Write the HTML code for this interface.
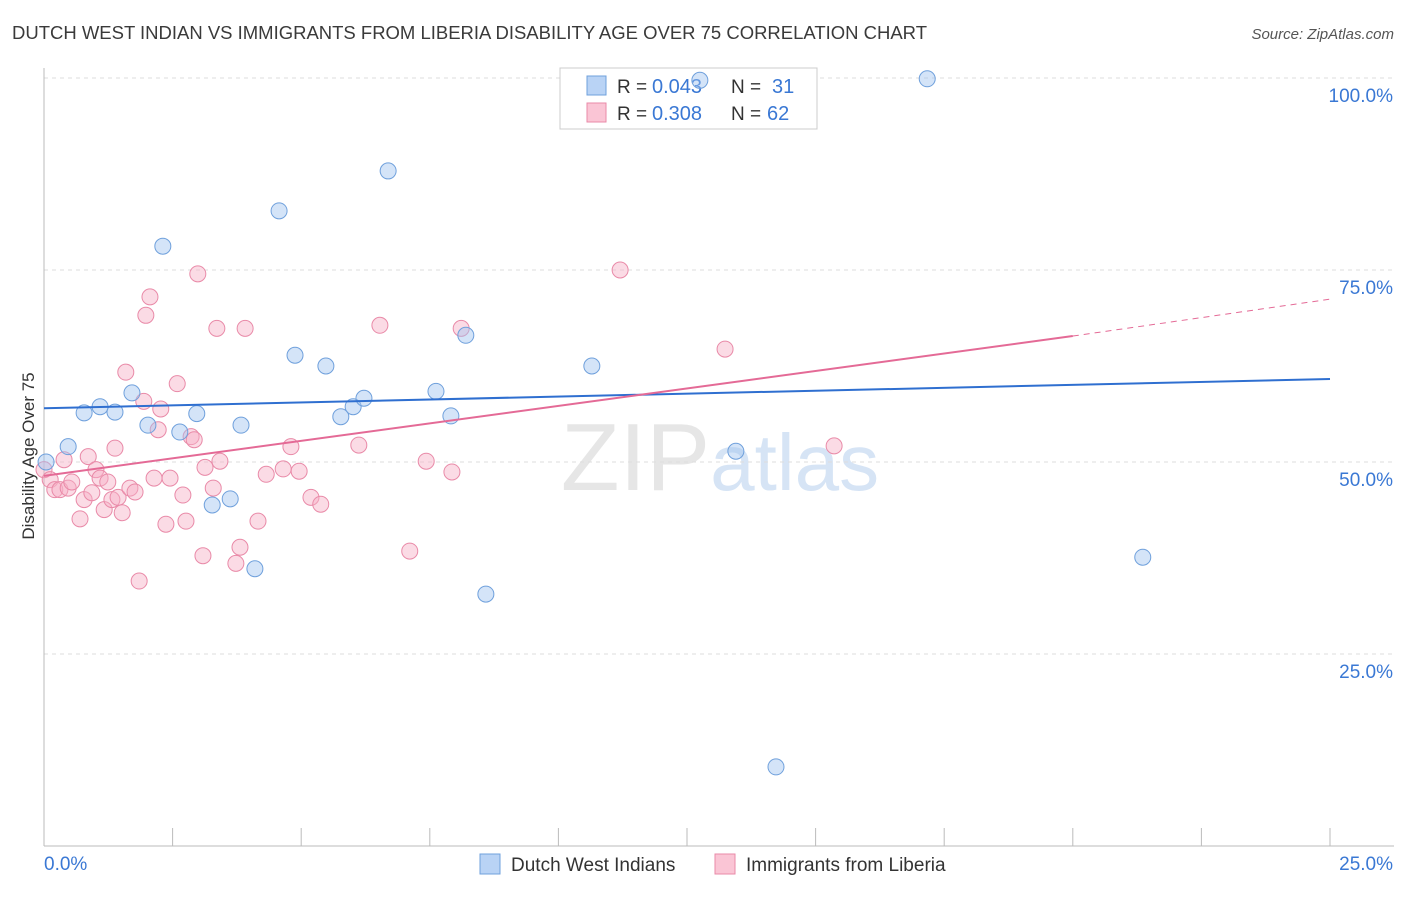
<!DOCTYPE html>
<html><head><meta charset="utf-8"><style>
body{margin:0;background:#fff;font-family:"Liberation Sans",sans-serif}
svg text{font-family:"Liberation Sans",sans-serif}
</style></head><body>
<svg id="chart" width="1406" height="892" xmlns="http://www.w3.org/2000/svg">
<text x="12" y="39" font-size="18.4" fill="#3a3a3a" textLength="915" lengthAdjust="spacingAndGlyphs">DUTCH WEST INDIAN VS IMMIGRANTS FROM LIBERIA DISABILITY AGE OVER 75 CORRELATION CHART</text>
<text x="1394" y="39" font-size="15" fill="#555" text-anchor="end" font-style="italic">Source: ZipAtlas.com</text>
<text x="720" y="490" font-size="96" text-anchor="middle" fill="#e6e6e6" font-family="Liberation Serif">ZIP<tspan fill="#d6e4f5" font-family="Liberation Sans" font-size="80">atlas</tspan></text>
<g id="grid"></g>
<g id="axes"></g>
<g>
<rect x="560" y="68" width="257" height="61" fill="#fff" stroke="#ccc"/>
<rect x="587" y="76" width="19" height="19" fill="#b9d3f5" stroke="#6fa0dc"/>
<text x="617" y="93" font-size="19" fill="#333">R =</text>
<text x="652" y="93" font-size="20" fill="#3a78d4">0.043</text>
<text x="731" y="93" font-size="19" fill="#333">N =</text>
<text x="772" y="93" font-size="20" fill="#3a78d4">31</text>
<rect x="587" y="103" width="19" height="19" fill="#fac5d5" stroke="#e98aa8"/>
<text x="617" y="120" font-size="19" fill="#333">R =</text>
<text x="652" y="120" font-size="20" fill="#3a78d4">0.308</text>
<text x="731" y="120" font-size="19" fill="#333">N =</text>
<text x="767" y="120" font-size="20" fill="#3a78d4">62</text>
</g>
<g id="marks"></g>
<text transform="translate(34,456) rotate(-90)" font-size="17" fill="#333" text-anchor="middle">Disability Age Over 75</text>
<g>
<rect x="480" y="854" width="20" height="20" fill="#b9d3f5" stroke="#6fa0dc"/>
<text x="511" y="871" font-size="19" fill="#333">Dutch West Indians</text>
<rect x="715" y="854" width="20" height="20" fill="#fac5d5" stroke="#e98aa8"/>
<text x="746" y="871" font-size="19" fill="#333">Immigrants from Liberia</text>
</g>
</svg>
<script>
const blueX=[0.04,0.47,0.78,1.09,1.38,1.71,2.02,2.31,2.64,2.97,3.27,3.62,3.83,4.10,4.57,4.88,5.48,5.77,6.01,6.22,6.69,7.62,7.91,8.20,8.59,10.65,12.75,13.45,14.23,17.17,21.36];
const blueY=[50.0,52.0,56.4,57.2,56.5,59.0,54.8,78.1,53.9,56.3,44.4,45.2,54.8,36.1,82.7,63.9,62.5,55.9,57.2,58.3,87.9,59.2,56.0,66.5,32.8,62.5,99.7,51.4,10.3,99.9,37.6];
const pinkX=[0,0.12,0.21,0.31,0.39,0.47,0.54,0.70,0.78,0.86,0.93,1.01,1.09,1.17,1.24,1.32,1.38,1.44,1.52,1.59,1.67,1.77,1.85,1.94,1.98,2.06,2.14,2.22,2.27,2.37,2.45,2.59,2.70,2.76,2.86,2.92,2.99,3.09,3.13,3.29,3.36,3.42,3.73,3.81,3.91,4.16,4.32,4.65,4.80,4.96,5.19,5.38,6.12,6.53,7.11,7.43,7.93,8.11,11.20,13.24,15.36];
const pinkY=[49.0,47.7,46.4,46.4,50.3,46.6,47.4,42.6,45.1,50.7,46.0,49.0,47.9,43.8,47.4,45.1,51.8,45.4,43.4,61.7,46.6,46.1,34.5,57.9,69.1,71.5,47.9,54.2,56.9,41.9,47.9,60.2,45.7,42.3,53.3,52.9,74.5,37.8,49.3,46.6,67.4,50.1,36.8,38.9,67.4,42.3,48.4,49.1,52.0,48.8,45.4,44.5,52.2,67.8,38.4,50.1,48.7,67.4,75.0,64.7,52.1];
const blueTrend=[57.0,60.8];
const pinkTrend=[48.2,66.4,71.2];
const yTicks=[25,50,75,100];
const yTickLabels=["25.0%","50.0%","75.0%","100.0%"];
const NS="http://www.w3.org/2000/svg";
const xs=v=>44+v/25*1286, ys=v=>846-v/100*768;
function mk(parent,tag,attrs){const e=document.createElementNS(NS,tag);for(const k in attrs)e.setAttribute(k,attrs[k]);document.getElementById(parent).appendChild(e);return e;}
yTicks.forEach((t,i)=>{
 const l=mk('grid','line',{x1:44,x2:1394,y1:ys(t),y2:ys(t),stroke:'#ddd','stroke-dasharray':'4,4'});
 
 
 const tx=mk('axes','text',{x:1393,y:ys(t)+24,'font-size':19,fill:'#3a78d4','text-anchor':'end'});tx.textContent=yTickLabels[i];
 
 
});
mk('axes','line',{x1:44,x2:44,y1:68,y2:846,stroke:'#bbb'});
mk('axes','line',{x1:44,x2:1394,y1:846,y2:846,stroke:'#bbb'});
for(let i=0;i<=10;i++){const t=mk('axes','line',{x1:xs(i*2.5),x2:xs(i*2.5),y1:828,y2:846,stroke:'#bbb'});
 
 }
let a=mk('axes','text',{x:44,y:870,'font-size':19,fill:'#3a78d4'});a.textContent='0.0%';


a=mk('axes','text',{x:1393,y:870,'font-size':19,fill:'#3a78d4','text-anchor':'end'});a.textContent='25.0%';


pinkX.forEach((x,i)=>{const c=mk('marks','circle',{cx:xs(x),cy:ys(pinkY[i]),r:8,fill:'rgba(247,175,198,0.45)',stroke:'#e98aa8','stroke-width':1});
 
 });
blueX.forEach((x,i)=>{const c=mk('marks','circle',{cx:xs(x),cy:ys(blueY[i]),r:8,fill:'rgba(160,195,240,0.45)',stroke:'#6fa0dc','stroke-width':1});
 
 });
let ln=mk('marks','line',{x1:xs(0),y1:ys(blueTrend[0]),x2:xs(25),y2:ys(blueTrend[1]),stroke:'#2f6fd0','stroke-width':2});


ln=mk('marks','line',{x1:xs(0),y1:ys(pinkTrend[0]),x2:xs(20),y2:ys(pinkTrend[1]),stroke:'#e46a96','stroke-width':2});


ln=mk('marks','line',{x1:xs(20),y1:ys(pinkTrend[1]),x2:xs(25),y2:ys(pinkTrend[2]),stroke:'#e46a96','stroke-width':1,'stroke-dasharray':'6,5'});


</script>
</body></html>
